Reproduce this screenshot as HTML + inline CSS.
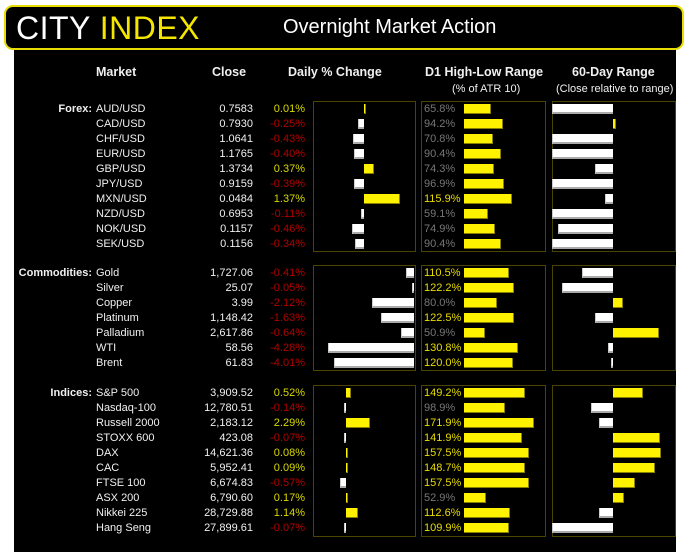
<!DOCTYPE html>
<html><head><style>
body{margin:0;width:693px;height:560px;background:#fff;position:relative;overflow:hidden;font-family:"Liberation Sans",sans-serif}
.abs{position:absolute;white-space:nowrap}
.t{font-size:11px;line-height:14px;color:#f0f0f0}
.box{position:absolute;border:1px solid #4a4400;box-sizing:border-box}
.bar{position:absolute;height:10px;box-sizing:border-box}
.w{background:#fff;border-bottom:2px solid #aaa;border-left:1px solid #ccc}
.y{background:#fff200;border-bottom:1px solid #8a8000;border-right:1px solid #8a8000}
.h{font-weight:bold;font-size:12.5px;color:#f0f0f0}
</style></head><body>
<div class="abs" style="left:14px;top:44px;width:662px;height:508px;background:#000"></div>
<div class="abs" style="left:4px;top:5px;width:680px;height:45px;background:#000;border:2px solid #e8dc00;border-radius:9px;box-sizing:border-box"></div>
<div class="abs" style="left:16px;top:10px;font-size:32px;color:#fff;letter-spacing:0.5px">CITY <span style="color:#f5e600">INDEX</span></div>
<div class="abs" style="left:283px;top:16px;font-size:20px;color:#fff">Overnight Market Action</div>
<div class="abs h" style="left:96px;top:65px">Market</div>
<div class="abs h" style="left:212px;top:65px">Close</div>
<div class="abs h" style="left:288px;top:65px">Daily % Change</div>
<div class="abs h" style="left:425px;top:65px">D1 High-Low Range</div>
<div class="abs h" style="left:572px;top:65px">60-Day Range</div>
<div class="abs t" style="left:452px;top:82px;font-size:11px">(% of ATR 10)</div>
<div class="abs t" style="left:556px;top:82px;font-size:11px">(Close relative to range)</div>
<div id="c"></div>
<script>
var groups=[
{label:"Forex:",y:109,zero:364,sc:26,top:101,bot:252,rows:[
["AUD/USD","0.7583",0.01,65.8,[552,613]],["CAD/USD","0.7930",-0.25,94.2,[613,616]],["CHF/USD","1.0641",-0.43,70.8,[552,613]],["EUR/USD","1.1765",-0.40,90.4,[552,613]],["GBP/USD","1.3734",0.37,74.3,[595,613]],["JPY/USD","0.9159",-0.39,96.9,[552,613]],["MXN/USD","0.0484",1.37,115.9,[605,613]],["NZD/USD","0.6953",-0.11,59.1,[552,613]],["NOK/USD","0.1157",-0.46,74.9,[558,613]],["SEK/USD","0.1156",-0.34,90.4,[552,613]]]},
{label:"Commodities:",y:273,zero:414,sc:20,top:265,bot:371,rows:[
["Gold","1,727.06",-0.41,110.5,[582,613]],["Silver","25.07",-0.05,122.2,[562,613]],["Copper","3.99",-2.12,80.0,[613,623]],["Platinum","1,148.42",-1.63,122.5,[595,613]],["Palladium","2,617.86",-0.64,50.9,[613,659]],["WTI","58.56",-4.28,130.8,[608,613]],["Brent","61.83",-4.01,120.0,[611,613]]]},
{label:"Indices:",y:393,zero:346,sc:10.5,top:385,bot:537,rows:[
["S&amp;P 500","3,909.52",0.52,149.2,[613,643]],["Nasdaq-100","12,780.51",-0.14,98.9,[591,613]],["Russell 2000","2,183.12",2.29,171.9,[599,613]],["STOXX 600","423.08",-0.07,141.9,[613,660]],["DAX","14,621.36",0.08,157.5,[613,661]],["CAC","5,952.41",0.09,148.7,[613,655]],["FTSE 100","6,674.83",-0.57,157.5,[613,635]],["ASX 200","6,790.60",0.17,52.9,[613,624]],["Nikkei 225","28,729.88",1.14,112.6,[599,613]],["Hang Seng","27,899.61",-0.07,109.9,[552,613]]]}];
var h="";
groups.forEach(function(g){
 h+='<div class="box" style="left:313px;top:'+g.top+'px;width:103px;height:'+(g.bot-g.top)+'px"></div>';
 h+='<div class="box" style="left:421px;top:'+g.top+'px;width:125px;height:'+(g.bot-g.top)+'px"></div>';
 h+='<div class="box" style="left:552px;top:'+g.top+'px;width:124px;height:'+(g.bot-g.top)+'px"></div>';
 h+='<div class="abs t" style="right:'+(693-92)+'px;top:'+(g.y-7)+'px;font-weight:bold">'+g.label+'</div>';
 g.rows.forEach(function(r,i){
  var y=g.y+i*15, ty=y-7;
  h+='<div class="abs t" style="left:96px;top:'+ty+'px">'+r[0]+'</div>';
  h+='<div class="abs t" style="right:'+(693-253)+'px;top:'+ty+'px">'+r[1]+'</div>';
  var pos=r[2]>=0;
  h+='<div class="abs t" style="right:'+(693-305)+'px;top:'+ty+'px;color:'+(pos?'#d8d800':'#b00000')+'">'+r[2].toFixed(2)+'%</div>';
  var len=Math.max(2,Math.abs(r[2])*g.sc);
  if(pos) h+='<div class="bar y" style="left:'+g.zero+'px;width:'+len+'px;top:'+(y-5)+'px"></div>';
  else h+='<div class="bar w" style="left:'+(g.zero-len)+'px;width:'+len+'px;top:'+(y-5)+'px"></div>';
  var hi=r[3]>=100;
  h+='<div class="abs t" style="left:424px;top:'+ty+'px;color:'+(hi?'#e8dc00':'#777')+'">'+r[3].toFixed(1)+'%</div>';
  h+='<div class="bar y" style="left:464px;width:'+(r[3]*0.41)+'px;top:'+(y-5)+'px"></div>';
  var a=r[4][0],b=r[4][1];
  if(b>613) h+='<div class="bar y" style="left:613px;width:'+(b-613)+'px;top:'+(y-5)+'px"></div>';
  else h+='<div class="bar w" style="left:'+a+'px;width:'+Math.max(2,b-a)+'px;top:'+(y-5)+'px"></div>';
 });
});
document.getElementById("c").innerHTML=h;
</script>
</body></html>
